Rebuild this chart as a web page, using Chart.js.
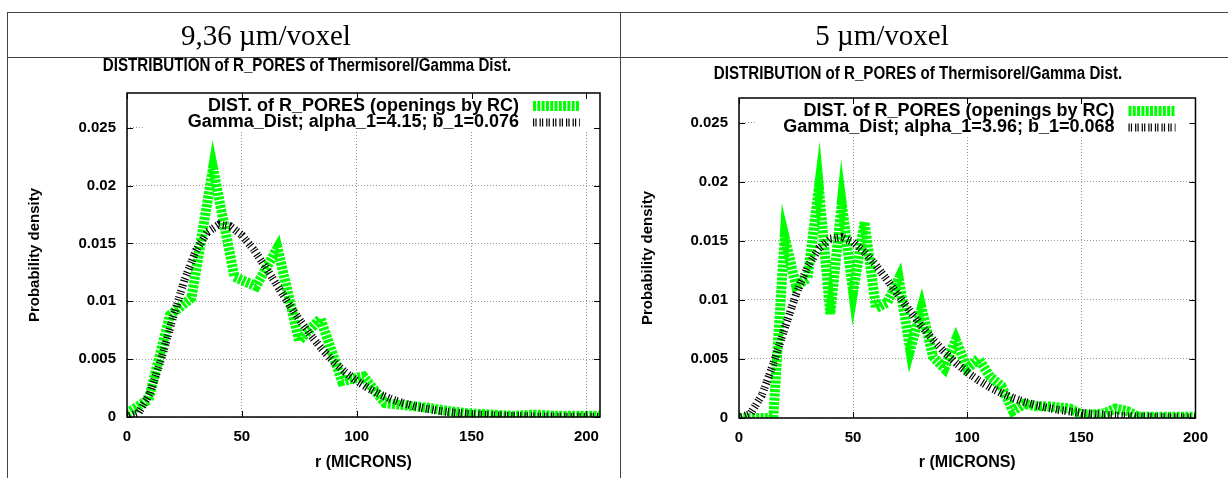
<!DOCTYPE html>
<html>
<head>
<meta charset="utf-8">
<script src="https://cdn.jsdelivr.net/npm/chart.js@4/dist/chart.umd.min.js"></script>
<style>
  body { margin: 0; background: #fff; }
  #page { position: relative; width: 1228px; height: 478px; overflow: hidden; background: #fff; }
  .hl { position: absolute; height: 1px; background: #444; }
  .vl { position: absolute; width: 1px; background: #444; }
  .head { position: absolute; top: 17px; width: 300px; text-align: center; font-family: "Liberation Serif", serif; font-size: 29px; line-height: 36px; color: #000; }
  .box { position: absolute; top: 40px; height: 438px; }
</style>
</head>
<body>
<div id="page">
  <div class="box" style="left:8px;width:612px;"><canvas id="left"></canvas></div>
  <div class="box" style="left:621px;width:598px;"><canvas id="right"></canvas></div>
  <div class="hl" style="left:7px;top:12px;width:1221px;"></div>
  <div class="hl" style="left:7px;top:57px;width:1221px;"></div>
  <div class="vl" style="left:7px;top:12px;height:466px;"></div>
  <div class="vl" style="left:620px;top:12px;height:466px;"></div>
  <div class="head" style="left:116px;">9,36 µm/voxel</div>
  <div class="head" style="left:732px;">5 µm/voxel</div>
</div>
<script>
// 9,36 um/voxel
const rLeft = [0, 9.36, 18.72, 28.08, 37.44, 46.8, 56.16, 65.52, 74.88, 84.24, 93.6, 102.96,
  112.32, 121.68, 131.04, 140.4, 149.76, 159.12, 168.48, 177.84, 187.2, 196.56, 205.92];
const distLeft = [0.0003, 0.0015, 0.0088, 0.0103, 0.0215, 0.0121, 0.0113, 0.0146, 0.0066, 0.0085,
  0.0031, 0.0035, 0.0012, 0.0010, 0.0008, 0.0005, 0.0003, 0.0002, 0.0001, 0.0002, 0.0001, 0.0001, 0.0001];
const gammaXLeft = [0, 5, 10, 15, 20, 25, 30, 35, 40, 45, 50, 55, 60, 65, 70, 75, 80, 85, 90, 95, 100,
  105, 110, 115, 120, 125, 130, 135, 140, 145, 150, 160, 170, 180, 190, 200, 205.92];
const gammaLeft = [0, 0.00034, 0.00206, 0.00506, 0.00857, 0.01184, 0.01438, 0.01597, 0.01663, 0.01648,
  0.01571, 0.01451, 0.01305, 0.01148, 0.00991, 0.00843, 0.00706, 0.00584, 0.00478, 0.00387, 0.00312,
  0.00249, 0.00197, 0.00155, 0.00121, 0.00094, 0.00073, 0.00056, 0.00043, 0.00033, 0.00025,
  0.00014, 0.00008, 0.00005, 0.000025, 0.000014, 0.00001];

// 5 um/voxel
const rRight = [0, 5, 10, 15, 20, 25, 30, 35, 40, 45, 50, 55, 60, 65, 70, 75, 80, 85, 90, 95, 100,
  105, 110, 115, 120, 125, 130, 135, 140, 145, 150, 155, 160, 165, 170, 175, 180, 185, 190, 195, 200];
const distRight = [0, 0, 0, 0, 0.0153, 0.0112, 0.0118, 0.0195, 0.0088, 0.0182, 0.0107, 0.0166, 0.0093,
  0.0098, 0.0118, 0.0058, 0.0093, 0.0052, 0.0042, 0.0066, 0.0042, 0.0050, 0.0035, 0.0027, 0.0006,
  0.0012, 0.0010, 0.0010, 0.0009, 0.0008, 0.0003, 0.0003, 0.0004, 0.0008, 0.0006, 0.0001, 0.0001,
  0.0001, 0.0001, 0.0001, 0.0001];
const gammaXRight = [0, 5, 10, 15, 20, 25, 30, 35, 40, 45, 50, 55, 60, 65, 70, 75, 80, 85, 90, 95, 100,
  105, 110, 115, 120, 125, 130, 135, 140, 145, 150, 160, 170, 180, 190, 200];
const gammaRight = [0, 0.00035, 0.00193, 0.00456, 0.0076, 0.01047, 0.01278, 0.01435, 0.01518, 0.01531,
  0.01489, 0.01405, 0.01293, 0.01167, 0.01034, 0.00903, 0.00778, 0.00663, 0.00559, 0.00467, 0.00387,
  0.00318, 0.0026, 0.00211, 0.0017, 0.00137, 0.00109, 0.00087, 0.00069, 0.00055, 0.00043,
  0.00026, 0.00016, 0.0001, 0.00006, 0.00003];

const xTicks = [0, 50, 100, 150, 200];
const yTicks = [0, 0.005, 0.01, 0.015, 0.02, 0.025];
const yTickLabels = ["0", "0.005", "0.01", "0.015", "0.02", "0.025"];

const chartTitle = "DISTRIBUTION of R_PORES of Thermisorel/Gamma Dist.";
const distLabel = "DIST. of R_PORES (openings by RC)";
const gammaLabelLeft = "Gamma_Dist; alpha_1=4.15; b_1=0.076";
const gammaLabelRight = "Gamma_Dist; alpha_1=3.96; b_1=0.068";

Chart.defaults.font.family = '"Liberation Sans", Arial, sans-serif';
Chart.defaults.color = "#000";

const toPoints = (xs, ys) => xs.map((x, i) => ({ x: x, y: ys[i] }));

// gnuplot look: narrow title, key inside the plot, full frame with inward tics
const gnuPlugin = {
  id: "gnuKey",
  beforeDatasetsDraw(chart) {
    const a = chart.chartArea, ctx = chart.ctx;
    ctx.save();
    ctx.fillStyle = "#fff";
    ctx.fillRect(a.left + 16, a.top + 1, a.right - a.left - 17, 38);
    ctx.restore();
  },
  afterDatasetsDraw(chart) {
    const a = chart.chartArea, ctx = chart.ctx;
    ctx.save();
    ctx.font = 'bold 18px "Liberation Sans", Arial, sans-serif';
    ctx.textAlign = "right";
    ctx.textBaseline = "middle";
    ctx.fillStyle = "#000";
    chart.data.datasets.forEach((ds, i) => {
      const y = a.top + 13 + i * 16.5;
      ctx.fillText(ds.label, a.right - 81, y);
      ctx.beginPath();
      ctx.lineWidth = ds.borderWidth;
      ctx.strokeStyle = ds.borderColor;
      ctx.setLineDash(ds.borderDash);
      ctx.moveTo(a.right - 67, y);
      ctx.lineTo(a.right - 20, y);
      ctx.stroke();
    });
    ctx.restore();
  },
  afterDraw(chart, args, opts) {
    const a = chart.chartArea, ctx = chart.ctx;
    const xs = chart.scales.x, ys = chart.scales.y;
    ctx.save();
    // title, horizontally condensed like the original
    ctx.font = 'bold 18px "Liberation Sans", Arial, sans-serif';
    ctx.textAlign = "center";
    ctx.textBaseline = "middle";
    ctx.fillStyle = "#000";
    ctx.translate(opts.titleX, opts.titleY);
    ctx.scale(0.84, 1);
    ctx.fillText(chartTitle, 0, 0);
    ctx.setTransform(1, 0, 0, 1, 0, 0);
    // frame
    ctx.strokeStyle = "#000";
    ctx.lineWidth = 1.5;
    ctx.strokeRect(a.left, a.top, a.right - a.left, a.bottom - a.top);
    ctx.lineWidth = 1;
    ctx.beginPath();
    xTicks.forEach(v => {
      const px = Math.round(xs.getPixelForValue(v)) + 0.5;
      ctx.moveTo(px, a.bottom); ctx.lineTo(px, a.bottom - 6);
      ctx.moveTo(px, a.top); ctx.lineTo(px, a.top + 6);
    });
    yTicks.forEach(v => {
      const py = Math.round(ys.getPixelForValue(v)) + 0.5;
      ctx.moveTo(a.left, py); ctx.lineTo(a.left + 6, py);
      ctx.moveTo(a.right, py); ctx.lineTo(a.right - 6, py);
    });
    ctx.stroke();
    ctx.restore();
  }
};

function makeChart(id, cfg) {
  return new Chart(document.getElementById(id), {
    type: "line",
    data: {
      datasets: [
        {
          label: distLabel,
          data: toPoints(cfg.r, cfg.dist),
          borderColor: "#00ff00",
          borderWidth: 10,
          borderDash: [3, 1.3],
          borderJoinStyle: "miter",
          pointRadius: 0,
          tension: 0,
          order: 2,
        },
        {
          label: cfg.gammaLabel,
          data: toPoints(cfg.gx, cfg.gamma),
          borderColor: "#000",
          borderWidth: 8,
          borderDash: [1.2, 1.2, 1.2, 3],
          borderJoinStyle: "miter",
          pointRadius: 0,
          tension: 0,
          order: 1,
        },
      ],
    },
    options: {
      responsive: false,
      animation: false,
      events: [],
      layout: { padding: { left: 0, right: cfg.padRight, top: cfg.plotTop, bottom: 0 } },
      scales: {
        x: {
          type: "linear",
          min: 0,
          max: cfg.xMax,
          afterBuildTicks: s => { s.ticks = xTicks.map(v => ({ value: v })); },
          afterFit: s => { s.height = cfg.xHeight; },
          grid: { color: "#999", lineWidth: 1, drawTicks: false },
          border: { display: false, dash: [1, 2] },
          ticks: { font: { size: 15, weight: "bold" }, padding: 11, maxRotation: 0 },
          title: { display: true, text: "r (MICRONS)", font: { size: 16, weight: "bold" }, padding: { top: 0, bottom: 6 } },
        },
        y: {
          min: 0,
          max: cfg.yMax,
          afterBuildTicks: s => { s.ticks = yTicks.map(v => ({ value: v })); },
          afterFit: s => { s.width = cfg.yWidth; },
          grid: { color: "#999", lineWidth: 1, drawTicks: false },
          border: { display: false, dash: [1, 2] },
          ticks: { font: { size: 15, weight: "bold" }, padding: 11, callback: (v, i) => yTickLabels[i] },
          title: { display: true, text: "Probability density", font: { size: 15, weight: "bold" }, padding: { top: 18, bottom: 0 } },
        },
      },
      plugins: {
        legend: { display: false },
        tooltip: { enabled: false },
        title: { display: false },
        gnuKey: { titleX: cfg.titleX, titleY: cfg.titleY },
      },
    },
    plugins: [gnuPlugin],
  });
}

const leftCanvas = document.getElementById("left");
leftCanvas.width = 612; leftCanvas.height = 438;
const rightCanvas = document.getElementById("right");
rightCanvas.width = 598; rightCanvas.height = 438;

makeChart("left", {
  r: rLeft, dist: distLeft, gx: gammaXLeft, gamma: gammaLeft, gammaLabel: gammaLabelLeft,
  xMax: 205.92, yMax: 0.028, padRight: 20, xHeight: 61, yWidth: 119, plotTop: 53, titleX: 299, titleY: 26,
});
makeChart("right", {
  r: rRight, dist: distRight, gx: gammaXRight, gamma: gammaRight, gammaLabel: gammaLabelRight,
  xMax: 200, yMax: 0.0271, padRight: 17, xHeight: 60, yWidth: 118, plotTop: 58, titleX: 297, titleY: 34,
});
</script>
</body>
</html>
